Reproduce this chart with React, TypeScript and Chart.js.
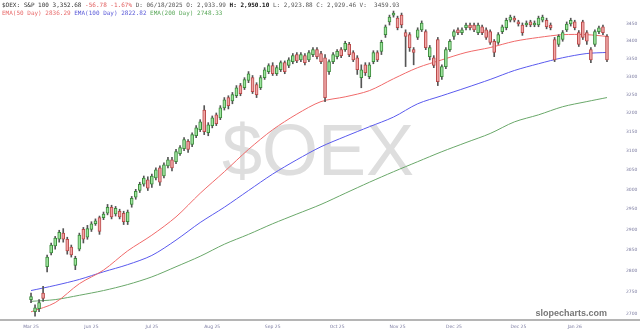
import React, { useEffect, useRef } from "react";
import { Chart, registerables } from "chart.js";
Chart.register(...registerables);

const opens = [
  2733, 2705, 2712, 2748, 2810, 2843, 2860, 2876, 2891, 2876,
  2857, 2813, 2852, 2900, 2881, 2900, 2914, 2929, 2929, 2940,
  2955, 2938, 2945, 2940, 2919, 2962, 2980, 2997, 3013, 3024,
  3013, 3029, 3055, 3034, 3060, 3076, 3071, 3092, 3105, 3124,
  3116, 3139, 3155, 3208, 3147, 3166, 3195, 3187, 3214, 3242,
  3233, 3247, 3275, 3269, 3289, 3297, 3278, 3269, 3297, 3314,
  3331, 3308, 3319, 3339, 3331, 3342, 3362, 3347, 3359, 3347,
  3362, 3376, 3365, 3353, 3314, 3342, 3356, 3376, 3376, 3391,
  3368, 3353, 3297, 3333, 3300, 3342, 3368, 3371, 3419, 3456,
  3476, 3467, 3476, 3425, 3419, 3376, 3411, 3433, 3428, 3356,
  3353, 3405, 3300, 3328, 3376, 3414, 3433, 3425, 3439, 3447,
  3447, 3425, 3442, 3433, 3428, 3400, 3397, 3428, 3439, 3461,
  3467, 3456, 3447, 3447, 3456, 3447, 3447, 3461, 3461, 3447,
  3405, 3391, 3405, 3433, 3450, 3456, 3425, 3456, 3425, 3376,
  3391, 3428, 3442, 3414,
];
const highs = [
  2748, 2721, 2733, 2764, 2838, 2867, 2883, 2898, 2902, 2881,
  2862, 2835, 2891, 2905, 2910, 2919, 2926, 2933, 2943, 2962,
  2960, 2957, 2950, 2945, 2948, 2982, 3000, 3018, 3034, 3032,
  3039, 3055, 3060, 3068, 3082, 3082, 3103, 3113, 3134, 3129,
  3147, 3166, 3182, 3220, 3174, 3192, 3200, 3220, 3242, 3247,
  3256, 3275, 3281, 3297, 3314, 3303, 3283, 3303, 3325, 3336,
  3339, 3331, 3344, 3344, 3353, 3365, 3368, 3368, 3365, 3373,
  3382, 3382, 3371, 3362, 3347, 3368, 3376, 3382, 3400, 3397,
  3373, 3359, 3333, 3339, 3339, 3373, 3373, 3403, 3447, 3476,
  3488, 3473, 3482, 3433, 3425, 3382, 3439, 3459, 3433, 3388,
  3359, 3411, 3333, 3382, 3405, 3433, 3439, 3439, 3453, 3453,
  3453, 3453, 3447, 3439, 3433, 3405, 3425, 3447, 3467, 3476,
  3473, 3461, 3453, 3459, 3461, 3459, 3473, 3476, 3467, 3453,
  3411, 3419, 3431, 3456, 3467, 3461, 3431, 3461, 3431, 3382,
  3433, 3444, 3447, 3419,
];
const lows = [
  2726, 2695, 2705, 2729, 2798, 2838, 2852, 2869, 2869, 2840,
  2833, 2803, 2848, 2867, 2876, 2895, 2910, 2888, 2924, 2936,
  2926, 2933, 2926, 2912, 2912, 2955, 2975, 2992, 3008, 2997,
  3005, 3024, 3010, 3029, 3055, 3047, 3066, 3087, 3100, 3095,
  3110, 3134, 3150, 3142, 3139, 3160, 3166, 3182, 3208, 3211,
  3225, 3242, 3247, 3264, 3283, 3253, 3242, 3264, 3292, 3308,
  3303, 3303, 3314, 3308, 3325, 3336, 3339, 3342, 3333, 3342,
  3356, 3350, 3336, 3231, 3306, 3336, 3350, 3353, 3371, 3356,
  3342, 3306, 3269, 3303, 3294, 3336, 3342, 3362, 3411, 3447,
  3470, 3433, 3439, 3328, 3371, 3333, 3405, 3428, 3376, 3347,
  3325, 3275, 3292, 3322, 3371, 3405, 3419, 3419, 3433, 3433,
  3428, 3419, 3419, 3405, 3391, 3356, 3391, 3422, 3433, 3456,
  3456, 3444, 3417, 3442, 3442, 3442, 3442, 3456, 3436, 3433,
  3342, 3385, 3400, 3428, 3444, 3433, 3385, 3405, 3391, 3339,
  3385, 3422, 3419, 3342,
];
const closes = [
  2740, 2714, 2726, 2736, 2833, 2862, 2879, 2893, 2876, 2848,
  2838, 2830, 2886, 2876, 2902, 2914, 2921, 2895, 2938, 2955,
  2931, 2952, 2931, 2919, 2943, 2977, 2995, 3013, 3029, 3003,
  3034, 3050, 3018, 3063, 3076, 3055, 3097, 3108, 3129, 3103,
  3142, 3160, 3176, 3150, 3168, 3187, 3171, 3214, 3236, 3220,
  3250, 3269, 3253, 3292, 3308, 3258, 3250, 3297, 3319, 3331,
  3308, 3325, 3339, 3314, 3347, 3359, 3344, 3362, 3339, 3368,
  3376, 3356, 3342, 3242, 3342, 3362, 3371, 3359, 3394, 3362,
  3347, 3319, 3319, 3311, 3333, 3368, 3347, 3397, 3442, 3470,
  3482, 3439, 3447, 3414, 3382, 3368, 3433, 3453, 3382, 3382,
  3331, 3286, 3328, 3376, 3400, 3428, 3425, 3433, 3447, 3439,
  3433, 3447, 3425, 3411, 3397, 3368, 3419, 3442, 3461, 3470,
  3461, 3450, 3425, 3453, 3447, 3453, 3467, 3470, 3442, 3439,
  3347, 3414, 3425, 3450, 3461, 3439, 3391, 3411, 3400, 3347,
  3428, 3439, 3425, 3347,
];

// EMA readings taken at these candle indices
const emaIdx = [0, 6, 12, 18, 24, 30, 36, 42, 48, 54, 60, 66, 72, 78, 84, 90, 96, 102, 108, 114, 120, 126, 132, 138, 143];
const ema50 = [2705, 2726, 2770, 2802, 2848, 2886, 2931, 2990, 3045, 3103, 3155, 3197, 3231, 3244, 3261, 3294, 3325, 3347, 3368, 3382, 3400, 3411, 3419, 3419, 3414];
const ema100 = [2754, 2766, 2780, 2798, 2815, 2837, 2874, 2917, 2955, 2997, 3039, 3076, 3110, 3137, 3163, 3189, 3225, 3247, 3269, 3292, 3317, 3336, 3353, 3365, 3368];
const ema200 = [2729, 2733, 2743, 2754, 2768, 2786, 2810, 2835, 2864, 2888, 2914, 2938, 2962, 2990, 3018, 3045, 3071, 3097, 3121, 3145, 3176, 3195, 3217, 3231, 3242];

const monthLabels = ["Mar 25", "Jun 25", "Jul 25", "Aug 25", "Sep 25", "Oct 25", "Nov 25", "Dec 25", "Dec 25", "Jan 26"];
const monthIdx = [0, 15, 30, 45, 60, 76, 91, 105, 121, 135];
const yTicks = [2700, 2750, 2800, 2850, 2900, 2950, 3000, 3050, 3100, 3150, 3200, 3250, 3300, 3350, 3400, 3450];

const header1 = [
  { t: "$OEX: S&P 100 3,352.68 ", c: "#333333", b: false },
  { t: "-56.78 -1.67% ", c: "#e05a5a", b: false },
  { t: "D: 06/18/2025 O: 2,933.99 ", c: "#555555", b: false },
  { t: "H: 2,950.10 ", c: "#111111", b: true },
  { t: "L: 2,923.88 C: 2,929.46 V:  3459.93", c: "#555555", b: false },
];
const header2 = [
  { t: "EMA(50 Day) 2836.29 ", c: "#e86a6a", b: false },
  { t: "EMA(100 Day) 2822.82 ", c: "#5a5ad8", b: false },
  { t: "EMA(200 Day) 2748.33", c: "#5aa85a", b: false },
];

const GREEN_FILL = "#9de59d";
const GREEN_EDGE = "#3c8a3c";
const RED_FILL = "#f2a5a5";
const RED_EDGE = "#b84a4a";

const overlay = {
  id: "overlay",
  beforeDatasetsDraw(chart: any) {
    const ctx = chart.ctx;
    ctx.save();
    ctx.font = '72px "Liberation Sans", Arial, sans-serif';
    ctx.fillStyle = "#dedede";
    ctx.textAlign = "center";
    ctx.textBaseline = "middle";
    ctx.fillText("$OEX", 318, 155);
    ctx.restore();
  },
  afterDraw(chart: any) {
    const ctx = chart.ctx;
    const area = chart.chartArea;
    ctx.save();
    ctx.strokeStyle = "#b5b5b5";
    ctx.lineWidth = 2;
    ctx.beginPath();
    ctx.moveTo(0, area.bottom);
    ctx.lineTo(640, area.bottom);
    ctx.stroke();

    ctx.textBaseline = "middle";
    ctx.textAlign = "left";
    const drawLine = (segs: any[], y: number) => {
      let x = 2;
      for (const s of segs) {
        ctx.font = (s.b ? "bold " : "") + '6px "DejaVu Sans Mono", monospace';
        ctx.fillStyle = s.c;
        ctx.fillText(s.t, x, y);
        x += ctx.measureText(s.t).width;
      }
    };
    drawLine(header1, 5);
    drawLine(header2, 13);

    ctx.font = 'bold 9px "Liberation Sans", Arial, sans-serif';
    ctx.fillStyle = "#777777";
    ctx.textAlign = "right";
    ctx.fillText("slopecharts.com", 607, 314);
    ctx.restore();
  },
};

export default function App() {
  const ref = useRef<HTMLCanvasElement>(null);
  useEffect(() => {
    if (!ref.current) return;
    const up = (i: number) => closes[i] >= opens[i];
    const bodies = opens.map((o, i) => ({ x: i, y: [o, closes[i]] }));
    const wicks = lows.map((l, i) => ({ x: i, y: [l, highs[i]] }));
    const mk = (vals: number[]) => vals.map((v, k) => ({ x: emaIdx[k], y: v }));
    const chart = new Chart(ref.current, {
      type: "bar",
      data: {
        datasets: [
          {
            type: "bar",
            data: bodies as any,
            backgroundColor: (c: any) => (up(c.dataIndex) ? GREEN_FILL : RED_FILL),
            borderColor: (c: any) => (up(c.dataIndex) ? GREEN_EDGE : RED_EDGE),
            borderWidth: 1,
            borderSkipped: false,
            barThickness: 3,
            grouped: false,
          } as any,
          {
            type: "bar",
            data: wicks as any,
            backgroundColor: "#555555",
            borderWidth: 0,
            barThickness: 1,
            grouped: false,
          } as any,
          {
            type: "line",
            data: mk(ema50) as any,
            borderColor: "#f06a6a",
            borderWidth: 1,
            pointRadius: 0,
            tension: 0.3,
          } as any,
          {
            type: "line",
            data: mk(ema100) as any,
            borderColor: "#5a5aee",
            borderWidth: 1,
            pointRadius: 0,
            tension: 0.3,
          } as any,
          {
            type: "line",
            data: mk(ema200) as any,
            borderColor: "#6aa86a",
            borderWidth: 1,
            pointRadius: 0,
            tension: 0.3,
          } as any,
        ],
      },
      options: {
        responsive: false,
        animation: false,
        devicePixelRatio: 1,
        layout: { padding: { left: 29, top: 0, right: 0, bottom: 0 } },
        plugins: { legend: { display: false }, tooltip: { enabled: false } },
        scales: {
          x: {
            type: "linear",
            min: -0.5,
            max: opens.length - 0.5,
            offset: false,
            grid: { display: false, drawTicks: true, tickLength: 4.5 },
            border: { display: false },
            afterBuildTicks: (s: any) => {
              s.ticks = monthIdx.map((v) => ({ value: v }));
            },
            afterFit: (s: any) => {
              s.height = 15;
              s.paddingLeft = 0;
              s.paddingRight = 0;
            },
            ticks: {
              autoSkip: false,
              maxRotation: 0,
              padding: 0,
              color: "#7a7aa0",
              font: { size: 4.5, family: "DejaVu Sans" },
              callback: (v: any) => {
                const k = monthIdx.indexOf(Number(v));
                return k >= 0 ? monthLabels[k] : "";
              },
            },
          },
          y: {
            type: "logarithmic",
            position: "right",
            min: 2686.3,
            max: 3520.7,
            grid: { display: false, drawTicks: true, tickLength: 17 },
            border: { display: false },
            afterBuildTicks: (s: any) => {
              s.ticks = yTicks.map((v) => ({ value: v }));
            },
            afterFit: (s: any) => {
              s.width = 31;
              s.paddingTop = 0;
              s.paddingBottom = 0;
            },
            ticks: {
              padding: 0,
              color: "#7a7aa0",
              font: { size: 4.5, family: "DejaVu Sans" },
              callback: (v: any) => String(v),
            },
          },
        },
      } as any,
      plugins: [overlay],
    });
    return () => chart.destroy();
  }, []);
  return (
    <div style={{ position: "fixed", left: 0, top: 0, width: 640, height: 335, background: "#fff" }}>
      <canvas ref={ref} width={640} height={335} />
    </div>
  );
}
